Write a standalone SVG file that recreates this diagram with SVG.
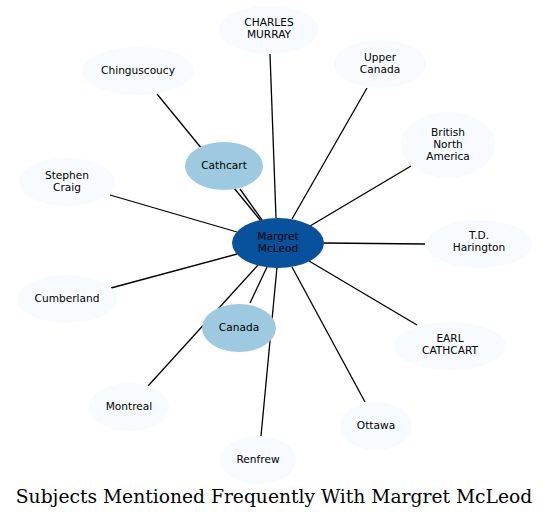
<svg xmlns="http://www.w3.org/2000/svg" width="551" height="520" viewBox="0 0 551 520">
<style>
.o{fill:#f7fbff;stroke:none}
.m{fill:#9ecae1;stroke:none}
.c{fill:#08519c;stroke:none}
text{font-family:"DejaVu Sans",sans-serif;font-size:10.6px;fill:#000;text-anchor:middle}
.e line{stroke:#000;stroke-width:1.3}
.t{font-family:"DejaVu Serif",serif;font-size:18.7px}
</style>
<rect width="551" height="520" fill="#fff"/>
<g class="e" id="edges">
<line x1="157" y1="94" x2="261" y2="221"/>
<line x1="240" y1="189" x2="262" y2="220"/>
<line x1="270" y1="54" x2="276" y2="218"/>
<line x1="367" y1="88" x2="292" y2="219"/>
<line x1="411" y1="166" x2="310" y2="226"/>
<line x1="425" y1="244" x2="324" y2="243"/>
<line x1="417" y1="325" x2="309" y2="261"/>
<line x1="365" y1="402" x2="292" y2="267"/>
<line x1="261" y1="436" x2="277" y2="267"/>
<line x1="148" y1="386" x2="258" y2="265"/>
<line x1="250" y1="303" x2="267" y2="267"/>
<line x1="111" y1="288" x2="237" y2="254"/>
<line x1="110" y1="195" x2="237" y2="232"/>
</g>
<g id="charles"><ellipse class="o" cx="269" cy="30" rx="50" ry="24"/><text x="269" y="26">CHARLES</text><text x="269" y="38">MURRAY</text></g>
<g id="upper"><ellipse class="o" cx="380" cy="64" rx="46" ry="24"/><text x="380" y="61">Upper</text><text x="380" y="73">Canada</text></g>
<g id="bna"><ellipse class="o" cx="448" cy="145" rx="47" ry="33"/><text x="448" y="136">British</text><text x="448" y="148">North</text><text x="448" y="160">America</text></g>
<g id="td"><ellipse class="o" cx="479" cy="244" rx="53" ry="24"/><text x="479" y="239">T.D.</text><text x="479" y="251">Harington</text></g>
<g id="earl"><ellipse class="o" cx="450" cy="346" rx="56" ry="24"/><text x="450" y="342">EARL</text><text x="450" y="354">CATHCART</text></g>
<g id="ottawa"><ellipse class="o" cx="376" cy="426" rx="36" ry="24"/><text x="376" y="429">Ottawa</text></g>
<g id="renfrew"><ellipse class="o" cx="258" cy="460" rx="38" ry="24"/><text x="258" y="463">Renfrew</text></g>
<g id="montreal"><ellipse class="o" cx="129" cy="407" rx="40" ry="24"/><text x="129" y="410">Montreal</text></g>
<g id="canada"><ellipse class="m" cx="239" cy="328" rx="37" ry="24"/><text x="239" y="331">Canada</text></g>
<g id="cumberland"><ellipse class="o" cx="67" cy="299" rx="50" ry="24"/><text x="67" y="302">Cumberland</text></g>
<g id="stephen"><ellipse class="o" cx="67" cy="182" rx="48" ry="24"/><text x="67" y="179">Stephen</text><text x="67" y="191">Craig</text></g>
<g id="cathcart"><ellipse class="m" cx="224" cy="166" rx="39" ry="24"/><text x="224" y="169">Cathcart</text></g>
<g id="chinguscoucy"><ellipse class="o" cx="138" cy="71" rx="56" ry="24"/><text x="138" y="74">Chinguscoucy</text></g>
<g id="margret"><ellipse class="c" cx="278" cy="243" rx="46" ry="25"/><text x="278" y="240">Margret</text><text x="278" y="252">McLeod</text></g>
<text class="t" x="274" y="503">Subjects Mentioned Frequently With Margret McLeod</text>
</svg>
